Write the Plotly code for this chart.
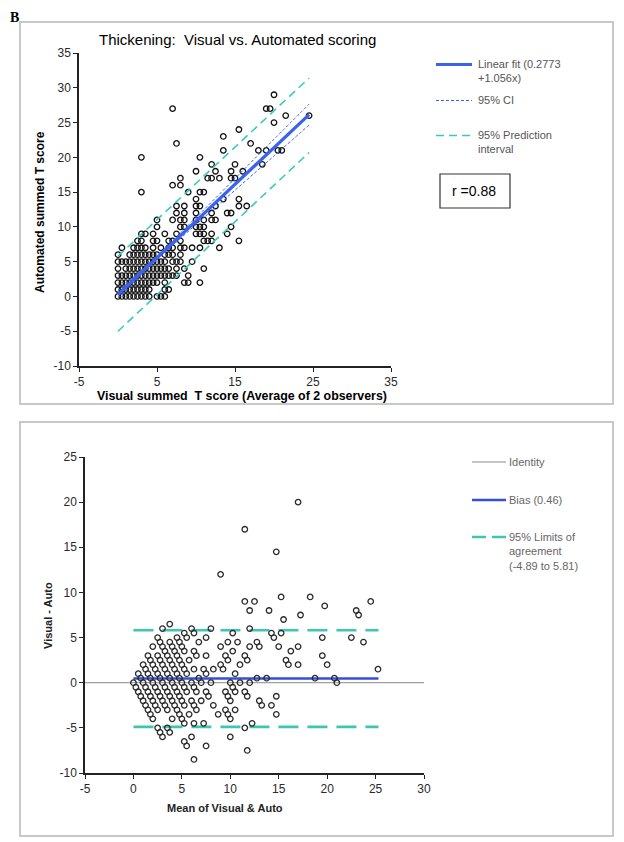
import plotly.graph_objects as go

# The page body keeps a default 8px margin, so the figure is 8px smaller than the window
OFF = 8
W, H = 624 - OFF, 842 - OFF
FONT = "Liberation Sans, Arial, sans-serif"

# ---------------- Panel 1: Visual vs Automated (one row per automated score) ----------------
auto_levels = [0, 1, 2, 3, 4, 5, 6, 7, 8, 9, 10, 11, 12, 13, 14, 15, 16, 17, 18, 19, 20,
               21, 22, 23, 24, 25, 26, 27, 29]
visual_at_level = [
    [0, 0.5, 1, 1.5, 2, 2.5, 3, 3.5, 4, 5, 5.5, 6],
    [0, 0.5, 1, 1.5, 2, 2.5, 3, 3.5, 4, 6, 6.5],
    [0, 0.5, 1, 1.5, 2, 2.5, 3, 3.5, 4, 4.5, 5, 6, 8.5, 9, 10.5],
    [0, 0.5, 1, 1.5, 2, 2.5, 3, 3.5, 4, 4.5, 5, 5.5, 6, 6.5, 7, 7.5, 9],
    [0, 1, 1.5, 2, 2.5, 3, 3.5, 4, 4.5, 5, 5.5, 6, 6.5, 7.5, 8.5, 11],
    [0, 0.5, 1, 1.5, 2, 2.5, 3, 3.5, 4, 4.5, 5, 5.5, 6, 7, 7.5, 8, 9.5],
    [0, 1.5, 2, 2.5, 3, 3.5, 4, 4.5, 5, 6, 6.5, 7, 8],
    [0.5, 2, 2.5, 3, 3.5, 4.5, 5.5, 6.5, 7, 8, 8.5, 9.5, 10.5, 13],
    [2.5, 3, 4.5, 5, 6.5, 7, 8, 11, 11.5, 12, 15.5],
    [3, 3.5, 4.5, 6, 7.5, 10, 10.5, 11, 12, 14],
    [5, 8, 8.5, 10, 10.5, 11, 14.5],
    [5, 7, 8, 8.5, 10, 11, 12, 12.5],
    [7.5, 8.5, 10, 12, 14, 14.5],
    [7.5, 8.5, 10, 10.5, 12.5, 15.5, 16.5],
    [10, 13.5, 15.5],
    [3, 9, 10.5, 11],
    [7, 8],
    [8, 11.5, 12, 13, 14.5, 15],
    [10, 12.5, 14.5, 16],
    [12, 15, 18.5],
    [3, 10.5],
    [13.5, 18, 19, 20.5, 21],
    [7.5, 17],
    [13.5],
    [15.5],
    [20],
    [21.5, 24.5],
    [7, 19, 19.5],
    [20],
]

fit_x = [0, 24.5]
fit_y = [0.28, 26.15]
ci_x = [0, 5, 10, 15, 20, 24.5]
ci_upper = [0.83, 5.86, 11.34, 16.97, 22.6, 27.65]
ci_lower = [-0.27, 5.26, 10.34, 15.27, 20.2, 24.65]
pi_x = [0, 24.5]
pi_upper = [5.8, 31.4]
pi_lower = [-5.0, 20.7]
r_value = "0.88"

top_x_tickvals = [-5, 5, 15, 25, 35]
top_x_ticktext = ["-5", "5", "15", "25", "35"]
top_y_tickvals = [-10, -5, 0, 5, 10, 15, 20, 25, 30, 35]
top_y_ticktext = ["-10", "-5", "0", "5", "10", "15", "20", "25", "30", "35"]

# ---------------- Panel 2: Bland-Altman ----------------
ba_mean = [
    0, 0.25, 0.5, 0.75, 1, 1.25, 1.5, 1.75, 2, 2.5, 2.75, 3,
    0.5, 0.75, 1, 1.25, 1.5, 1.75, 2, 2.25, 2.5, 3.5, 3.75,
    1, 1.25, 1.5, 1.75, 2, 2.25, 2.5, 2.75, 3, 3.25, 3.5, 4, 5.25, 5.5, 6.25,
    1.5, 1.75, 2, 2.25, 2.5, 2.75, 3, 3.25, 3.5, 3.75, 4, 4.25, 4.5, 4.75, 5, 5.25, 6,
    2, 2.5, 2.75, 3, 3.25, 3.5, 3.75, 4, 4.25, 4.5, 4.75, 5, 5.25, 5.75, 6.25, 7.5,
    2.5, 2.75, 3, 3.25, 3.5, 3.75, 4, 4.25, 4.5, 4.75, 5, 5.25, 5.5, 6, 6.25, 6.5, 7.25,
    3, 3.75, 4, 4.25, 4.5, 4.75, 5, 5.25, 5.5, 6, 6.25, 6.5, 7,
    3.75, 4.5, 4.75, 5, 5.25, 5.75, 6.25, 6.75, 7, 7.5, 7.75, 8.25, 8.75, 10,
    5.25, 5.5, 6.25, 6.5, 7.25, 7.5, 8, 9.5, 9.75, 10, 11.75,
    6, 6.25, 6.75, 7.5, 8.25, 9.5, 9.75, 10, 10.5, 11.5,
    7.5, 9, 9.25, 10, 10.25, 10.5, 12.25,
    8, 9, 9.5, 9.75, 10.5, 11, 11.5, 11.75,
    9.75, 10.25, 11, 12, 13, 13.25,
    10.25, 10.75, 11.5, 11.75, 12.75, 14.25, 14.75,
    12, 13.75, 14.75,
    9, 12, 12.75, 13,
    11.5, 12,
    12.5, 14.25, 14.5, 15, 15.75, 16,
    14, 15.25, 16.25, 17,
    15.5, 17, 18.75,
    11.5, 15.25,
    17.25, 19.5, 20, 20.75, 21,
    14.75, 19.5,
    18.25,
    19.75,
    22.5,
    23.75, 25.25,
    17, 23, 23.25,
    24.5,
]
ba_diff = [
    0, -0.5, -1, -1.5, -2, -2.5, -3, -3.5, -4, -5, -5.5, -6,
    1, 0.5, 0, -0.5, -1, -1.5, -2, -2.5, -3, -5, -5.5,
    2, 1.5, 1, 0.5, 0, -0.5, -1, -1.5, -2, -2.5, -3, -4, -6.5, -7, -8.5,
    3, 2.5, 2, 1.5, 1, 0.5, 0, -0.5, -1, -1.5, -2, -2.5, -3, -3.5, -4, -4.5, -6,
    4, 3, 2.5, 2, 1.5, 1, 0.5, 0, -0.5, -1, -1.5, -2, -2.5, -3.5, -4.5, -7,
    5, 4.5, 4, 3.5, 3, 2.5, 2, 1.5, 1, 0.5, 0, -0.5, -1, -2, -2.5, -3, -4.5,
    6, 4.5, 4, 3.5, 3, 2.5, 2, 1.5, 1, 0, -0.5, -1, -2,
    6.5, 5, 4.5, 4, 3.5, 2.5, 1.5, 0.5, 0, -1, -1.5, -2.5, -3.5, -6,
    5.5, 5, 3.5, 3, 1.5, 1, 0, -3, -3.5, -4, -7.5,
    6, 5.5, 4.5, 3, 1.5, -1, -1.5, -2, -3, -5,
    5, 2, 1.5, 0, -0.5, -1, -4.5,
    6, 4, 3, 2.5, 1, 0, -1, -1.5,
    4.5, 3.5, 2, 0, -2, -2.5,
    5.5, 4.5, 3, 2.5, 0.5, -2.5, -3.5,
    4, 0.5, -1.5,
    12, 6, 4.5, 4,
    9, 8,
    9, 5.5, 5, 4, 2.5, 2,
    8, 5.5, 3.5, 2,
    7, 4, 0.5,
    17, 9.5,
    7.5, 3, 2, 0.5, 0,
    14.5, 5,
    9.5,
    8.5,
    5,
    4.5, 1.5,
    20, 8, 7.5,
    9,
]
bias = 0.46
loa_lower = -4.89
loa_upper = 5.81
ba_line_x = [0, 25.3]
identity_x = [-5, 30]

ba_x_tickvals = [-5, 0, 5, 10, 15, 20, 25, 30]
ba_x_ticktext = ["-5", "0", "5", "10", "15", "20", "25", "30"]
ba_y_tickvals = [-10, -5, 0, 5, 10, 15, 20, 25]
ba_y_ticktext = ["-10", "-5", "0", "5", "10", "15", "20", "25"]

# colours
BLUE = "#3a62ee"
BLUE_DARK = "#3550d8"
TEAL = "#3cc8c0"
TEAL2 = "#3fc6b2"


def fx(p):
    """window pixel x -> paper coordinate"""
    return (p - OFF) / W


def fy(p):
    """window pixel y -> paper coordinate"""
    return 1 - (p - OFF) / H


# build flat table for panel 1
top_visual, top_auto = [], []
for a, vs in zip(auto_levels, visual_at_level):
    for v in vs:
        top_visual.append(v)
        top_auto.append(a)

fig = go.Figure()

marker = dict(symbol="circle-open", size=5.5, color="#111111", line=dict(width=1.3, color="#111111"))

# Panel 1
fig.add_trace(go.Scatter(x=top_visual, y=top_auto, mode="markers", marker=marker,
                         xaxis="x", yaxis="y", showlegend=False, hoverinfo="x+y"))
fig.add_trace(go.Scatter(x=pi_x, y=pi_upper, mode="lines", line=dict(color=TEAL, width=1.6, dash="8px,5px"),
                         xaxis="x", yaxis="y", showlegend=False))
fig.add_trace(go.Scatter(x=pi_x, y=pi_lower, mode="lines", line=dict(color=TEAL, width=1.6, dash="8px,5px"),
                         xaxis="x", yaxis="y", showlegend=False))
fig.add_trace(go.Scatter(x=ci_x, y=ci_upper, mode="lines", line=dict(color=BLUE, width=1, dash="3px,2px", shape="spline"),
                         xaxis="x", yaxis="y", showlegend=False))
fig.add_trace(go.Scatter(x=ci_x, y=ci_lower, mode="lines", line=dict(color=BLUE, width=1, dash="3px,2px", shape="spline"),
                         xaxis="x", yaxis="y", showlegend=False))
fig.add_trace(go.Scatter(x=fit_x, y=fit_y, mode="lines", line=dict(color=BLUE, width=3.2),
                         xaxis="x", yaxis="y", showlegend=False))

# Panel 2
fig.add_trace(go.Scatter(x=identity_x, y=[0, 0], mode="lines", line=dict(color="#8a8a8a", width=1),
                         xaxis="x2", yaxis="y2", showlegend=False))
fig.add_trace(go.Scatter(x=ba_line_x, y=[bias, bias], mode="lines", line=dict(color=BLUE_DARK, width=2.6),
                         xaxis="x2", yaxis="y2", showlegend=False))
fig.add_trace(go.Scatter(x=ba_line_x, y=[loa_upper, loa_upper], mode="lines",
                         line=dict(color=TEAL2, width=2.6, dash="20px,9px"),
                         xaxis="x2", yaxis="y2", showlegend=False))
fig.add_trace(go.Scatter(x=ba_line_x, y=[loa_lower, loa_lower], mode="lines",
                         line=dict(color=TEAL2, width=2.6, dash="20px,9px"),
                         xaxis="x2", yaxis="y2", showlegend=False))
marker2 = dict(symbol="circle-open", size=5.5, color="#2a2a2a", line=dict(width=1.3, color="#2a2a2a"))
fig.add_trace(go.Scatter(x=ba_mean, y=ba_diff, mode="markers", marker=marker2,
                         xaxis="x2", yaxis="y2", showlegend=False, hoverinfo="x+y"))

axis_common = dict(showgrid=False, zeroline=False, showline=True, linecolor="#222222", linewidth=1.5,
                   ticks="outside", ticklen=4, tickwidth=1, tickcolor="#222222", automargin=False,
                   tickmode="array",
                   tickfont=dict(family=FONT, size=12, color="#2a2a2a"))

fig.update_layout(
    template="none",
    width=W, height=H,
    margin=dict(l=0, r=0, t=0, b=0, pad=0),
    paper_bgcolor="white", plot_bgcolor="rgba(0,0,0,0)",
    showlegend=False,
    xaxis=dict(domain=[fx(79), fx(391)], range=[-5, 35], tickvals=top_x_tickvals, ticktext=top_x_ticktext,
               anchor="y", **axis_common),
    yaxis=dict(domain=[fy(366), fy(53)], range=[-10, 35], tickvals=top_y_tickvals, ticktext=top_y_ticktext,
               anchor="x", **axis_common),
    xaxis2=dict(domain=[fx(85), fx(424)], range=[-5, 30], tickvals=ba_x_tickvals, ticktext=ba_x_ticktext,
                anchor="y2", **axis_common),
    yaxis2=dict(domain=[fy(773), fy(457)], range=[-10, 25], tickvals=ba_y_tickvals, ticktext=ba_y_ticktext,
                anchor="x2", **axis_common),
)

shapes = []
annotations = []

# panel frames
for (x0, y0, x1, y1) in [(20, 22, 613, 404), (20, 422, 613, 836)]:
    shapes.append(dict(type="rect", xref="paper", yref="paper", x0=fx(x0), x1=fx(x1), y0=fy(y1), y1=fy(y0),
                       line=dict(color="#c8c8c8", width=2), fillcolor="rgba(0,0,0,0)", layer="below"))

# panel label
annotations.append(dict(text="<b>B</b>", x=fx(8), y=fy(8), xref="paper", yref="paper",
                        xanchor="left", yanchor="top", showarrow=False,
                        font=dict(family="Liberation Serif, Times New Roman, serif", size=14, color="black")))

# titles
annotations.append(dict(text="Thickening:  Visual vs. Automated scoring", x=fx(237), y=fy(40),
                        xref="paper", yref="paper", xanchor="center", yanchor="middle", showarrow=False,
                        font=dict(family=FONT, size=15, color="black")))
annotations.append(dict(text="<b>Visual summed  T score (Average of 2 observers)</b>", x=fx(242), y=fy(396),
                        xref="paper", yref="paper", xanchor="center", yanchor="middle", showarrow=False,
                        font=dict(family=FONT, size=12.4, color="black")))
annotations.append(dict(text="<b>Automated summed T score</b>", x=fx(40), y=fy(212), textangle=-90,
                        xref="paper", yref="paper", xanchor="center", yanchor="middle", showarrow=False,
                        font=dict(family=FONT, size=12, color="black")))
annotations.append(dict(text="<b>Mean of Visual & Auto</b>", x=fx(225), y=fy(808),
                        xref="paper", yref="paper", xanchor="center", yanchor="middle", showarrow=False,
                        font=dict(family=FONT, size=11, color="#222222")))
annotations.append(dict(text="<b>Visual - Auto</b>", x=fx(48), y=fy(615), textangle=-90,
                        xref="paper", yref="paper", xanchor="center", yanchor="middle", showarrow=False,
                        font=dict(family=FONT, size=11, color="#222222")))

# legend panel 1
leg1 = [
    (64.5, dict(color=BLUE, width=3.2), "Linear fit (0.2773<br>+1.056x)", 71),
    (100.5, dict(color=BLUE, width=1, dash="3px,2px"), "95% CI", 100.5),
    (135.5, dict(color=TEAL, width=1.6, dash="8px,5px"), "95% Prediction<br>interval", 142),
]
for ly, lstyle, txt, ty in leg1:
    shapes.append(dict(type="line", xref="paper", yref="paper", x0=fx(436), x1=fx(472), y0=fy(ly), y1=fy(ly),
                       line=lstyle))
    annotations.append(dict(text=txt, x=fx(476), y=fy(ty), xref="paper", yref="paper",
                            xanchor="left", yanchor="middle", align="left", showarrow=False,
                            font=dict(family=FONT, size=11, color="#555555")))

# r box
shapes.append(dict(type="rect", xref="paper", yref="paper", x0=fx(440), x1=fx(510), y0=fy(208), y1=fy(174),
                   line=dict(color="#333333", width=1.2), fillcolor="white"))
annotations.append(dict(text="r =" + r_value, x=fx(474), y=fy(191), xref="paper", yref="paper",
                        xanchor="center", yanchor="middle", showarrow=False,
                        font=dict(family=FONT, size=14, color="black")))

# legend panel 2
leg2 = [
    (462, dict(color="#8a8a8a", width=1), "Identity", 462),
    (500, dict(color=BLUE_DARK, width=2.6), "Bias (0.46)", 500),
    (537, dict(color=TEAL2, width=2.6, dash="14px,6px"), "95% Limits of<br>agreement<br>(-4.89 to 5.81)", 551),
]
for ly, lstyle, txt, ty in leg2:
    shapes.append(dict(type="line", xref="paper", yref="paper", x0=fx(472), x1=fx(506), y0=fy(ly), y1=fy(ly),
                       line=lstyle))
    annotations.append(dict(text=txt, x=fx(507), y=fy(ty), xref="paper", yref="paper",
                            xanchor="left", yanchor="middle", align="left", showarrow=False,
                            font=dict(family=FONT, size=11, color="#666666")))

fig.update_layout(shapes=shapes, annotations=annotations)

fig.write_html("out.html")
